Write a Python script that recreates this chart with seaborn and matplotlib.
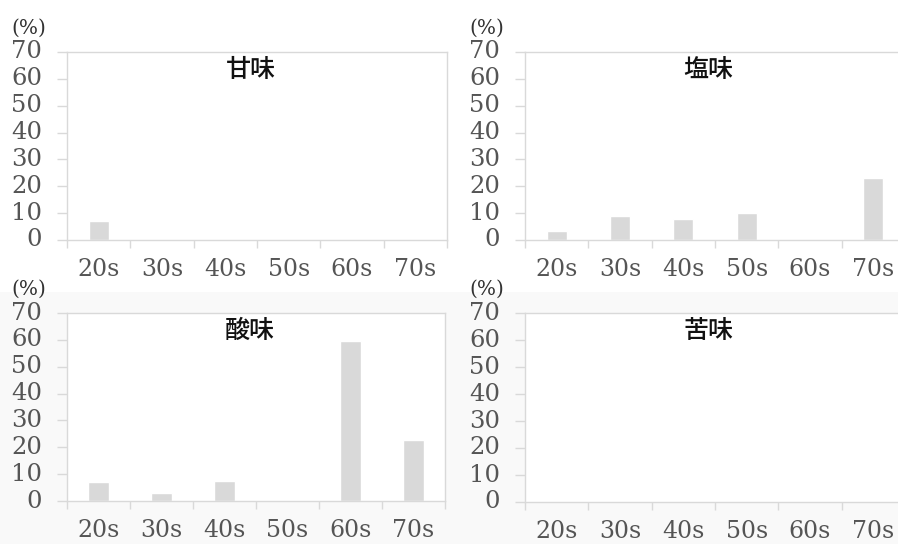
import matplotlib
matplotlib.use("Agg")
import matplotlib.pyplot as plt
import seaborn as sns
import pandas as pd
from matplotlib.patches import Rectangle

# Age groups and share (%) of respondents for each taste
age_groups = ["20s", "30s", "40s", "50s", "60s", "70s"]
sweet = [7.2, 0, 0, 0, 0, 0]
salty = [3.5, 9.0, 7.7, 10.2, 0, 22.9]
sour = [7.1, 2.9, 7.6, 0, 59.7, 22.8]
bitter = [0, 0, 0, 0, 0, 0]
panel_titles = ["甘味", "塩味", "酸味", "苦味"]
y_ticks = [0, 10, 20, 30, 40, 50, 60, 70]

sns.set_theme(style="white")
plt.rcParams["font.family"] = ["DejaVu Serif"]

W, H = 898, 544
fig = plt.figure(figsize=(W / 100, H / 100), dpi=100)
fig.patch.set_facecolor("white")
# faint grey backdrop behind the lower row
fig.patches.append(Rectangle((0, 0), 1, 1 - 292 / H, transform=fig.transFigure,
                             facecolor="#f9f9f9", edgecolor="none", zorder=-10))

# axes boxes in pixel coordinates: (left, top, right, bottom)
boxes = [(67, 52, 447, 240), (525, 52, 905, 240),
         (67, 313, 445, 501), (525, 313, 905, 502)]
series = [sweet, salty, sour, bitter]
line_c = "#d9d9d9"
label_c = "#555555"

for (l, t, r, b), vals, title in zip(boxes, series, panel_titles):
    ax = fig.add_axes([l / W, 1 - b / H, (r - l) / W, (b - t) / H])
    ax.set_facecolor("white")
    df = pd.DataFrame({"age": age_groups, "pct": vals})
    sns.barplot(data=df, x="age", y="pct", color="#d9d9d9", width=0.32,
                saturation=1, ax=ax)
    ax.set_xlim(-0.5, len(age_groups) - 0.5)
    ax.set_ylim(0, 70)
    ax.set_yticks(y_ticks)
    ax.set_xlabel("")
    ax.set_ylabel("")
    for s in ax.spines.values():
        s.set_color(line_c)
        s.set_linewidth(1)
        s.set_visible(True)
    # category boundary ticks on x, plain labels at centres
    ax.set_xticks([i - 0.5 for i in range(len(age_groups) + 1)], minor=True)
    ax.tick_params(axis="x", which="minor", bottom=True, length=6,
                   color=line_c, width=1)
    ax.tick_params(axis="x", which="major", length=0, pad=13,
                   labelsize=17, labelcolor=label_c)
    ax.tick_params(axis="y", which="major", left=True, length=7, width=1,
                   color=line_c, pad=11, labelsize=17.5, labelcolor=label_c)
    for lab in ax.get_yticklabels():
        lab.set_verticalalignment("center")
    ax.text(0.483, 0.905, title, transform=ax.transAxes, ha="center",
            va="center", fontsize=18, color="#111111",
            family=["Noto Sans CJK JP", "DejaVu Sans"], fontweight="medium")
    # unit label above the y tick labels
    fig.text((l - 38) / W, 1 - (t - 24) / H, "(%)", ha="center", va="center",
             fontsize=14.5, color="#333333")

fig.savefig("out.png", dpi=100, facecolor=fig.get_facecolor())
